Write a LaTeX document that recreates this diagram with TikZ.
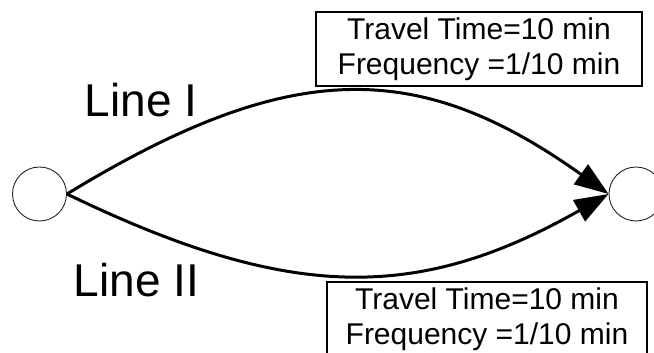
\documentclass[tikz,border=0pt]{standalone}
\usepackage{fontspec}
\setmainfont{Liberation Sans}
\usetikzlibrary{arrows.meta}

\tikzset{
  stop/.style={circle, draw=black!85, line width=0.9pt, minimum size=54pt, inner sep=0pt},
  route/.style={line width=3pt, -{Triangle[length=34pt, width=24pt]}},
  infobox/.style={draw, line width=1.8pt, align=center, inner xsep=0pt, inner ysep=6pt,
                  anchor=north, font=\fontsize{30}{34.5}\selectfont},
  linelabel/.style={anchor=base west, inner sep=0pt, font=\fontsize{46}{50}\selectfont}
}

\begin{document}
\begin{tikzpicture}[x=1pt, y=1pt]
  \clip (0,0) rectangle (654,353);
  \fill[white] (0,0) rectangle (654,353);

  % stops
  \node[stop] (orig) at (39.5,159) {};
  \node[stop] (dest) at (636,159) {};

  % the two lines between the stops
  \draw[route] (orig.east) .. controls (290,295) and (418,295) .. (dest.west);
  \draw[route] (orig.east) .. controls (290,51) and (418,51) .. (dest.west);

  % line names
  \node[linelabel] (l1) at (84.6,236) {Line I};
  \node[linelabel] (l2) at (73.6,56) {Line II};

  % service attributes
  \node[infobox, minimum width=326pt] (b1) at (479,342)
    {Travel Time=10 min\\Frequency =1/10 min};
  \node[infobox, minimum width=320pt] (b2) at (487,72)
    {Travel Time=10 min\\Frequency =1/10 min};
\end{tikzpicture}
\end{document}
